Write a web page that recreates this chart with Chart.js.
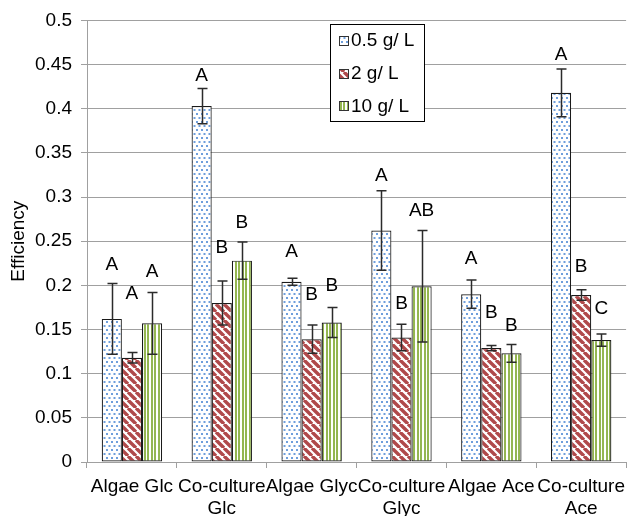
<!DOCTYPE html>
<html><head><meta charset="utf-8">
<script src="https://cdn.jsdelivr.net/npm/chart.js@4.4.1/dist/chart.umd.min.js"></script>
<style>html,body{margin:0;padding:0;background:#fff;}</style>
</head><body>
<canvas id="c" width="632" height="516"></canvas>
<script>
// ---- data ----
const categories = [['Algae Glc'], ['Co-culture', 'Glc'], ['Algae Glyc'], ['Co-culture', 'Glyc'], ['Algae Ace'], ['Co-culture', 'Ace']];
const seriesNames = ['0.5 g/ L', '2 g/ L', '10 g/ L'];
const low  = [0.162, 0.403, 0.204, 0.262, 0.190, 0.418];
const lowErr  = [0.040, 0.020, 0.004, 0.045, 0.016, 0.027];
const mid  = [0.118, 0.180, 0.139, 0.141, 0.129, 0.189];
const midErr  = [0.006, 0.025, 0.016, 0.015, 0.003, 0.006];
const high = [0.157, 0.228, 0.158, 0.199, 0.123, 0.138];
const highErr = [0.035, 0.021, 0.017, 0.063, 0.010, 0.007];
const lowLetters  = ['A', 'A', 'A', 'A', 'A', 'A'];
const midLetters  = ['A', 'B', 'B', 'B', 'B', 'B'];
const highLetters = ['A', 'B', 'B', 'AB', 'B', 'C'];
const lowLetterAt  = [0.223, 0.437, 0.238, 0.324, 0.230, 0.461];
const midLetterAt  = [0.191, 0.243, 0.189, 0.179, 0.169, 0.221];
const highLetterAt = [0.215, 0.271, 0.200, 0.285, 0.154, 0.173];
const yTickValues = [0, 0.05, 0.1, 0.15, 0.2, 0.25, 0.3, 0.35, 0.4, 0.45, 0.5];
const yTickLabels = ['0', '0.05', '0.1', '0.15', '0.2', '0.25', '0.3', '0.35', '0.4', '0.45', '0.5'];

// ---- patterns ----
function makeTile(w, h, draw) {
  const t = document.createElement('canvas');
  t.width = w; t.height = h;
  const c = t.getContext('2d');
  c.fillStyle = '#fff'; c.fillRect(0, 0, w, h);
  draw(c, w, h);
  return t;
}
const mainCtx = document.getElementById('c').getContext('2d');
const dotTile = makeTile(5, 8, (c) => {
  c.fillStyle = '#6f9fdc';
  c.fillRect(1, 1, 2, 2);
  c.fillRect(3.5, 5, 2, 2);
  c.fillRect(-1.5, 5, 2, 2);
});
const diagTile = makeTile(8, 8, (c, w, h) => {
  c.strokeStyle = '#b0494a'; c.lineWidth = 3.4;
  c.beginPath();
  for (let k = -2; k <= 2; k++) {
    c.moveTo(k * w, 0); c.lineTo(k * w + w, h);
  }
  c.stroke();
});
const vertTile = makeTile(7, 4, (c) => {
  c.fillStyle = '#94b651';
  c.fillRect(0, 0, 2, 4);
  c.fillRect(4, 0, 2, 4);
});
const dotPat = mainCtx.createPattern(dotTile, 'repeat');
const diagPat = mainCtx.createPattern(diagTile, 'repeat');
const vertPat = mainCtx.createPattern(vertTile, 'repeat');

const FONT = "'Liberation Sans', Arial, sans-serif";
const GRID = '#a0a0a0';

const errorBarsPlugin = {
  id: 'errorBarsLetters',
  afterDatasetsDraw(chart) {
    const ctx = chart.ctx, ys = chart.scales.y;
    chart.data.datasets.forEach((ds, i) => {
      const meta = chart.getDatasetMeta(i);
      meta.data.forEach((bar, j) => {
        const v = ds.data[j], e = ds.errors[j];
        const x = Math.round(bar.x) + 0.5;
        const top = ys.getPixelForValue(v + e), bot = ys.getPixelForValue(v - e);
        ctx.save();
        ctx.strokeStyle = '#2b2b2b'; ctx.lineWidth = 1.5;
        ctx.beginPath();
        ctx.moveTo(x, top); ctx.lineTo(x, bot);
        ctx.moveTo(x - 5, top); ctx.lineTo(x + 5, top);
        ctx.moveTo(x - 5, bot); ctx.lineTo(x + 5, bot);
        ctx.stroke();
        ctx.fillStyle = '#000';
        ctx.font = '19px ' + FONT;
        ctx.textAlign = 'center'; ctx.textBaseline = 'middle';
        ctx.fillText(ds.letters[j], bar.x, ys.getPixelForValue(ds.letterAt[j]));
        ctx.restore();
      });
    });
  }
};

const legendPlugin = {
  id: 'boxLegend',
  afterDraw(chart) {
    const ctx = chart.ctx;
    const bx = 330.5, by = 24.5, bw = 94, bh = 97;
    ctx.save();
    ctx.fillStyle = '#fff'; ctx.fillRect(bx, by, bw, bh);
    ctx.strokeStyle = '#000'; ctx.lineWidth = 1; ctx.strokeRect(bx, by, bw, bh);
    ctx.font = '19px ' + FONT;
    ctx.textAlign = 'left'; ctx.textBaseline = 'middle';
    chart.data.datasets.forEach((ds, i) => {
      const cy = 41 + i * 32.7;
      ctx.fillStyle = ds.backgroundColor;
      ctx.fillRect(339, Math.round(cy) - 5, 10, 10);
      ctx.strokeStyle = '#333'; ctx.lineWidth = 1;
      ctx.strokeRect(339.5, Math.round(cy) - 4.5, 9, 9);
      ctx.fillStyle = '#000';
      ctx.fillText(ds.label, 351, cy);
    });
    ctx.restore();
  }
};

function mkDs(label, data, errors, letters, letterAt, bg) {
  return { label, data, errors, letters, letterAt, backgroundColor: bg,
    borderColor: '#1a1a1a', borderWidth: 1.2, borderSkipped: false,
    categoryPercentage: 0.672, barPercentage: 1.0 };
}

new Chart(document.getElementById('c'), {
  type: 'bar',
  data: {
    labels: categories,
    datasets: [
      mkDs(seriesNames[0], low, lowErr, lowLetters, lowLetterAt, dotPat),
      mkDs(seriesNames[1], mid, midErr, midLetters, midLetterAt, diagPat),
      mkDs(seriesNames[2], high, highErr, highLetters, highLetterAt, vertPat)
    ]
  },
  options: {
    responsive: false,
    devicePixelRatio: 1,
    animation: false,
    layout: { padding: { top: 17, right: 0, bottom: 0, left: 0 } },
    plugins: { legend: { display: false }, tooltip: { enabled: false } },
    scales: {
      x: {
        grid: { drawOnChartArea: false, drawTicks: true, tickLength: 6, color: GRID, offset: true },
        border: { color: GRID, width: 1 },
        ticks: { color: '#000', font: { family: FONT, size: 19 }, padding: 7, maxRotation: 0, autoSkip: false },
        afterFit(s) { s.height = 54; }
      },
      y: {
        min: 0, max: 0.5,
        afterBuildTicks(s) { s.ticks = yTickValues.map(v => ({ value: v })); },
        grid: { color: GRID, lineWidth: 1, drawTicks: true, tickLength: 6 },
        border: { color: GRID, width: 1 },
        ticks: { color: '#000', font: { family: FONT, size: 19 }, padding: 9,
          callback: (v, i) => yTickLabels[i] },
        title: { display: true, text: 'Efficiency', color: '#000', font: { family: FONT, size: 19 }, padding: { top: 7, bottom: 0 } },
        afterFit(s) { s.width = 87; }
      }
    }
  },
  plugins: [errorBarsPlugin, legendPlugin]
});
</script>
</body></html>
